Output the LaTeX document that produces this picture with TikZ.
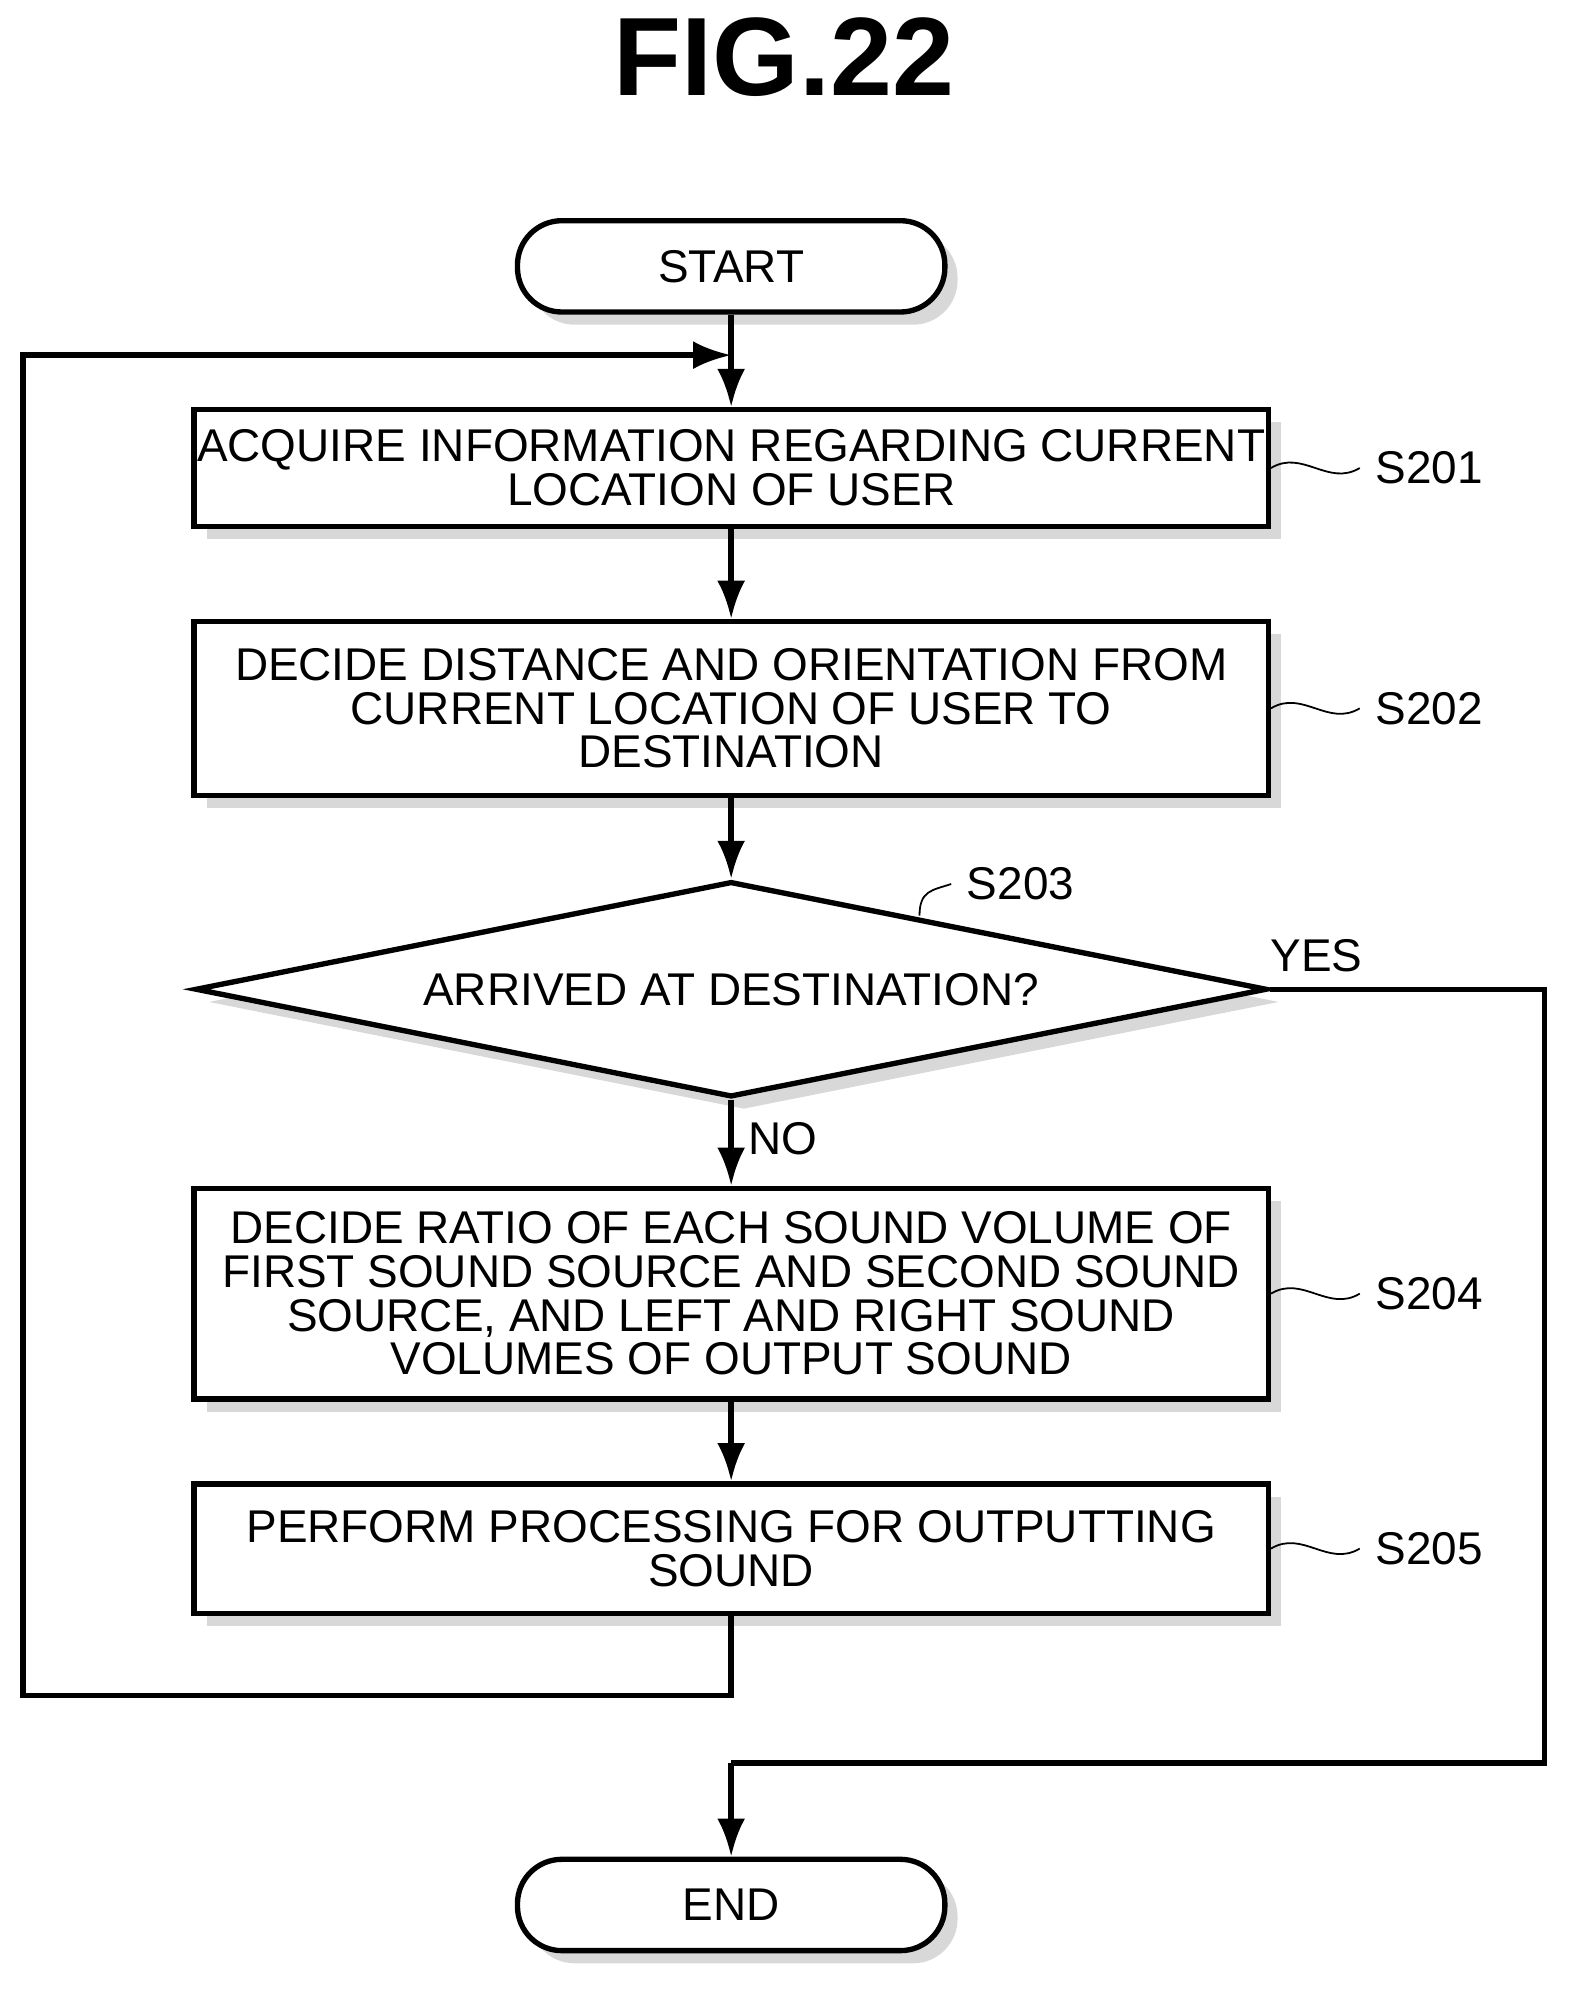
\documentclass[tikz,border=0pt]{standalone}
\usepackage{fontspec}
\setmainfont{Liberation Sans}
\usetikzlibrary{arrows.meta,shapes.geometric,shadows}
\newcommand{\myarrow}{Latex[width=2.2mm,length=3mm]}
\tikzset{
  shade box/.style={drop shadow={shadow xshift=0.1cm, shadow yshift=-0.1cm, fill=gray!60}},
  stepbox/.style={draw, line width=1.2pt, fill=white, shade box, minimum width=8.47cm,
    align=center, inner sep=0pt, font=\fontsize{10.3}{9.8}\selectfont},
  term/.style={draw, line width=1.2pt, fill=white, shade box, rounded corners=0.35cm,
    minimum width=3.37cm, minimum height=0.72cm, font=\fontsize{10.3}{9.8}\selectfont},
  flow/.style={-\myarrow, line width=1.2pt},
  tag/.style={font=\fontsize{10.3}{9.8}\selectfont}
}
\begin{document}
\begin{tikzpicture}
  \useasboundingbox (0,0) rectangle (12.4,-15.73);

  % title
  \node (title) at (6.18,-0.45) {\fontsize{25}{25}\bfseries\selectfont FIG.22};

  % terminals and steps
  \node[term] (start) at (5.765,-2.1) {START};
  \node[stepbox, minimum height=0.92cm] (s1) at (5.765,-3.69) {ACQUIRE INFORMATION REGARDING CURRENT\\LOCATION OF USER};
  \node[stepbox, minimum height=1.37cm] (s2) at (5.765,-5.585) {DECIDE DISTANCE AND ORIENTATION FROM\\CURRENT LOCATION OF USER TO\\DESTINATION};
  \node[diamond, draw, line width=1.2pt, fill=white, shade box, aspect=5, inner sep=0pt,
    minimum width=8.45cm, minimum height=1.7cm, font=\fontsize{10.3}{9.8}\selectfont] (s3) at (5.765,-7.8) {ARRIVED AT DESTINATION?};
  \node[stepbox, minimum height=1.66cm] (s4) at (5.765,-10.2) {DECIDE RATIO OF EACH SOUND VOLUME OF\\FIRST SOUND SOURCE AND SECOND SOUND\\SOURCE, AND LEFT AND RIGHT SOUND\\VOLUMES OF OUTPUT SOUND};
  \node[stepbox, minimum height=1.02cm] (s5) at (5.765,-12.21) {PERFORM PROCESSING FOR OUTPUTTING\\SOUND};
  \node[term] (end) at (5.765,-15.02) {END};

  % connectors
  \coordinate (join) at (5.765,-2.8);
  \coordinate (split) at (5.765,-13.9);
  \draw[line width=1.2pt] (start) -- (join);
  \draw[flow] (join) -- (s1);
  \draw[flow] (s1) -- (s2);
  \draw[flow] (s2) -- (s3);
  \draw[flow] (s3) -- node[right, tag, pos=0.45] {NO} (s4);
  \draw[flow] (s4) -- (s5);
  \draw[flow] (s5.south) -- (5.765,-13.37) -- (0.18,-13.37) -- (0.18,-2.8) -- (join);
  \draw[line width=1.2pt] (s3.east) -- node[above, tag, pos=0.17] {YES} (12.18,-7.8) -- (12.18,-13.9) -- (split);
  \draw[flow] (split) -- (end);

  % step labels
  \draw (s1.east) .. controls +(0.25,0.15) and +(-0.25,-0.15) .. ++(0.7,0) node[right, tag] {S201};
  \draw (s2.east) .. controls +(0.25,0.15) and +(-0.25,-0.15) .. ++(0.7,0) node[right, tag] {S202};
  \draw (s4.east) .. controls +(0.25,0.15) and +(-0.25,-0.15) .. ++(0.7,0) node[right, tag] {S204};
  \draw (s5.east) .. controls +(0.25,0.15) and +(-0.25,-0.15) .. ++(0.7,0) node[right, tag] {S205};
  \draw (7.25,-7.22) .. controls +(0.0,0.2) and +(-0.15,-0.05) .. ++(0.25,0.25) node[right, tag] {S203};
\end{tikzpicture}
\end{document}
